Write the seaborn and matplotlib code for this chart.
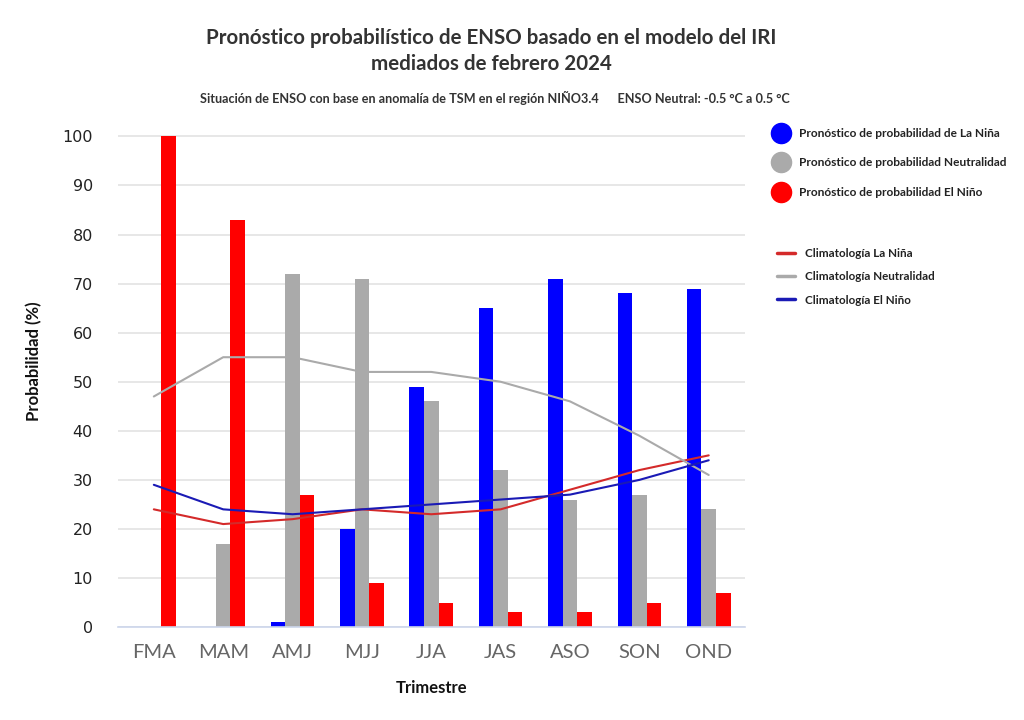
import matplotlib
matplotlib.use("Agg")
import matplotlib.pyplot as plt
import seaborn as sns
import pandas as pd
import numpy as np
from matplotlib.lines import Line2D

categories = ["FMA", "MAM", "AMJ", "MJJ", "JJA", "JAS", "ASO", "SON", "OND"]
prob_nina = [0, 0, 1, 20, 49, 65, 71, 68, 69]
prob_neutral = [0, 17, 72, 71, 46, 32, 26, 27, 24]
prob_nino = [100, 83, 27, 9, 5, 3, 3, 5, 7]
clim_nina = [24, 21, 22, 24, 23, 24, 28, 32, 35]
clim_neutral = [47, 55, 55, 52, 52, 50, 46, 39, 31]
clim_nino = [29, 24, 23, 24, 25, 26, 27, 30, 34]

bar_labels = ["Pronóstico de probabilidad de La Niña",
              "Pronóstico de probabilidad Neutralidad",
              "Pronóstico de probabilidad El Niño"]
line_labels = ["Climatología La Niña", "Climatología Neutralidad", "Climatología El Niño"]

bar_colors = ["#0000FF", "#AAAAAA", "#FF0000"]
line_colors = ["#D42A2A", "#AAAAAA", "#1A1AB5"]

sns.set_theme(style="white")
plt.rcParams['font.family'] = ['Lato', 'DejaVu Sans']

df = pd.DataFrame({
    "Trimestre": categories * 3,
    "valor": prob_nina + prob_neutral + prob_nino,
    "serie": [bar_labels[0]] * 9 + [bar_labels[1]] * 9 + [bar_labels[2]] * 9,
})

fig = plt.figure(figsize=(10.24, 7.2), dpi=100)
ax = fig.add_axes([0.115, 0.129, 0.613, 0.685])

sns.barplot(data=df, x="Trimestre", y="valor", hue="serie", order=categories,
            hue_order=bar_labels, palette=bar_colors, width=0.63, saturation=1,
            ax=ax, legend=False, zorder=2, linewidth=0, edgecolor="none")

dfl = pd.DataFrame({
    "Trimestre": list(range(9)) * 3,
    "valor": clim_nina + clim_neutral + clim_nino,
    "serie": [line_labels[0]] * 9 + [line_labels[1]] * 9 + [line_labels[2]] * 9,
})
sns.lineplot(data=dfl, x="Trimestre", y="valor", hue="serie", hue_order=line_labels,
             palette=line_colors, linewidth=1.5, ax=ax, legend=False, zorder=3)

ax.set_xlim(-0.52, 8.53)
ax.set_ylim(0, 100.5)
ax.set_yticks(range(0, 101, 10))
ax.set_xticks(range(9))
ax.set_xticklabels(categories)
ax.grid(axis="y", color="#E3E3E3", linewidth=1.2, zorder=0)
ax.set_axisbelow(True)
for s in ["top", "right", "left"]:
    ax.spines[s].set_visible(False)
ax.spines["bottom"].set_color("#CCD6EB")
ax.spines["bottom"].set_linewidth(1.2)
ax.tick_params(axis="x", length=0, pad=12, labelsize=14.5, labelcolor="#666666")
ax.tick_params(axis="y", length=0, pad=18)
for lab in ax.get_yticklabels():
    lab.set_fontfamily("DejaVu Sans")
    lab.set_fontsize(11.5)
    lab.set_color("#222222")
ax.set_xlabel("Trimestre", fontsize=12, fontweight="bold", color="#111111", labelpad=14)
ax.set_ylabel("Probabilidad (%)", fontsize=12, fontweight="bold", color="#111111")
ax.yaxis.set_label_coords(-0.121, 0.54)

fig.text(0.48, 0.947, "Pronóstico probabilístico de ENSO basado en el modelo del IRI",
         ha="center", va="center", fontsize=14.8, fontweight="bold", color="#333333")
fig.text(0.48, 0.911, "mediados de febrero 2024",
         ha="center", va="center", fontsize=14.8, fontweight="bold", color="#333333")
fig.text(0.483, 0.864,
         "Situación de ENSO con base en anomalía de TSM en el región NIÑO3.4      ENSO Neutral: -0.5 °C a 0.5 °C",
         ha="center", va="center", fontsize=9.1, fontweight="bold", color="#333333")

bar_handles = [Line2D([0], [0], marker="o", linestyle="none", markersize=14.5,
                      markerfacecolor=c, markeredgecolor=c) for c in bar_colors]
leg1 = fig.legend(bar_handles, bar_labels, loc="upper left", bbox_to_anchor=(0.746, 0.829),
                  frameon=False, prop={"size": 8.6, "weight": "bold"}, labelspacing=1.55,
                  handletextpad=0.5, borderaxespad=0)
for t in leg1.get_texts():
    t.set_color("#222222")

line_handles = [Line2D([0], [0], color=c, linewidth=2.5) for c in line_colors]
leg2 = fig.legend(line_handles, line_labels, loc="upper left", bbox_to_anchor=(0.754, 0.662),
                  frameon=False, prop={"size": 8.4, "weight": "bold"}, labelspacing=1.05,
                  handlelength=1.6, handletextpad=0.8, borderaxespad=0)
for t in leg2.get_texts():
    t.set_color("#222222")

fig.savefig("out.png", dpi=100)
